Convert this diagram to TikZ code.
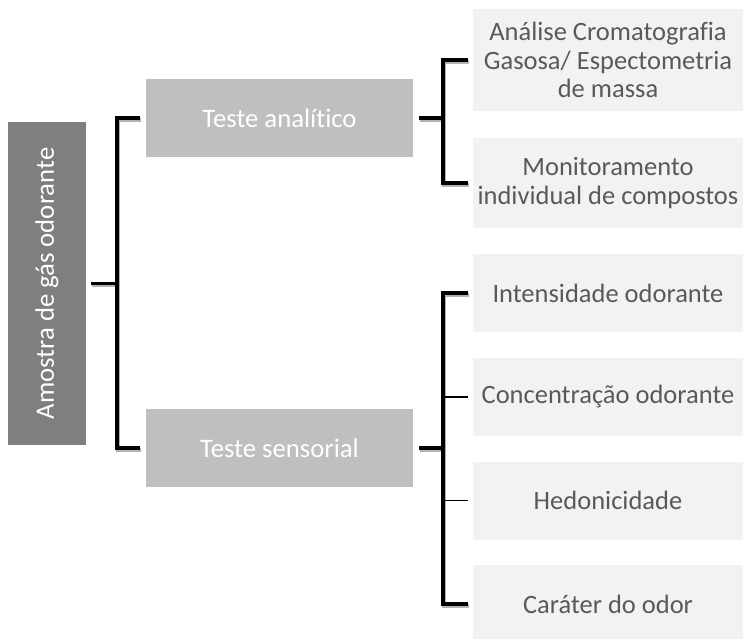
\documentclass[tikz,border=0pt]{standalone}
\usepackage{fontspec}
\setmainfont[Ligatures=NoCommon]{Carlito}
\definecolor{rootgray}{HTML}{7F7F7F}
\definecolor{midgray}{HTML}{BFBFBF}
\definecolor{leafgray}{HTML}{F2F2F2}
\definecolor{leaftext}{HTML}{595959}
\begin{document}
\begin{tikzpicture}[x=1pt,y=-1pt,
  rootbox/.style={rectangle,fill=rootgray,text=white,inner sep=0pt,font=\fontsize{26.7}{29}\selectfont},
  midbox/.style={rectangle,fill=midgray,text=white,inner sep=0pt,minimum width=267pt,minimum height=78pt,font=\fontsize{26.7}{29}\selectfont},
  leafbox/.style={rectangle,fill=leafgray,text=leaftext,inner sep=0pt,minimum width=270pt,align=center,font=\fontsize{26.5}{28.5}\selectfont},
  brk/.style={line width=3.8pt,black,preaction={draw=black!30,line width=4pt,transform canvas={shift={(1.2pt,-1.8pt)}}}},
  tick/.style={line width=1.2pt,black}]
\useasboundingbox (0,0) rectangle (743,638);
\begin{scope}
\clip (0,0) rectangle (743,638);
\node[rootbox,rotate=90,minimum width=323pt,minimum height=78pt] (root) at (47,283.5) {Amostra de gás odorante};
\node[midbox] (ta) at (279.5,118) {Teste analítico};
\node[midbox] (ts) at (279.5,448) {Teste sensorial};
\node[leafbox,minimum height=102pt] (l1) at (608,60) {Análise Cromatografia\\Gasosa/ Espectometria\\de massa};
\node[leafbox,minimum height=90pt] (l2) at (608,183) {Monitoramento\\individual de compostos};
\node[leafbox,minimum height=78pt] (l3) at (608,293) {Intensidade odorante};
\node[leafbox,minimum height=78pt] (l4) at (608,397) {Concentração odorante};
\node[leafbox,minimum height=78pt] (l5) at (608,500.5) {Hedonicidade};
\node[leafbox,minimum height=78pt] (l6) at (608,604) {Caráter do odor};
\end{scope}
\coordinate (b1) at (117,283.5);
\coordinate (b2) at (443,118);
\coordinate (b3) at (443,448);
\draw[brk] ([xshift=5pt]root.south) -- (b1);
\draw[brk] ([xshift=-6pt]ta.west) -| (b1) |- ([xshift=-6pt]ts.west);
\draw[brk] ([xshift=6pt]ta.east) -- (b2);
\draw[brk] ([xshift=-5pt]l1.west) -| (b2) |- ([xshift=-5pt]l2.west);
\draw[brk] ([xshift=6pt]ts.east) -- (b3);
\draw[brk] ([xshift=-5pt]l3.west) -| (b3) |- ([xshift=-5pt]l6.west);
\draw[tick] ([xshift=-5pt]l4.west) -- (l4.west -| b3);
\draw[tick] ([xshift=-5pt]l5.west) -- (l5.west -| b3);
\end{tikzpicture}
\end{document}
